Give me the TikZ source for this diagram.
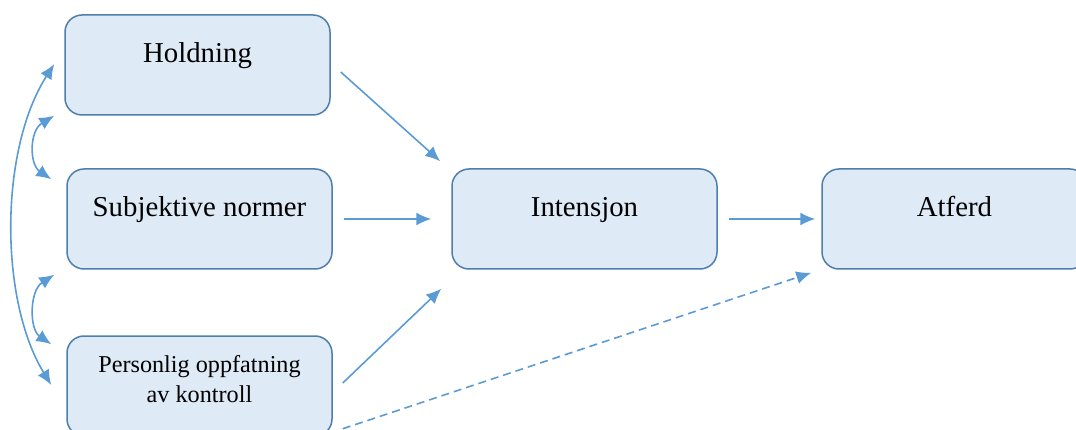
\documentclass[tikz,border=0pt]{standalone}
\usepackage{fontspec}
\setmainfont{Liberation Serif}
\usetikzlibrary{arrows.meta,calc}
\definecolor{boxfill}{HTML}{DEEAF6}
\definecolor{boxline}{HTML}{4F7EAA}
\definecolor{arr}{HTML}{5B9BD5}
\begin{document}
\begin{tikzpicture}[x=1pt,y=-1pt,
  box/.style={draw=boxline, fill=boxfill, line width=1.5pt, rounded corners=17pt,
    minimum width=265pt, minimum height=100pt, inner sep=0pt},
  lbl/.style={font=\fontsize{28.8}{34}\selectfont, inner sep=0pt, anchor=base},
  lblsmall/.style={font=\fontsize{24.2}{30}\selectfont, inner sep=0pt, align=center, anchor=north},
  con/.style={draw=arr, line width=1.6pt, -{Latex[length=15pt,width=13pt]}},
  dcon/.style={con, dash pattern=on 8pt off 5pt},
  bicon/.style={draw=arr, line width=1.6pt, {Latex[length=15pt,width=13pt]}-{Latex[length=15pt,width=13pt]}}]
\useasboundingbox (0,0) rectangle (1076,430);
\node[box] (hold) at (197.5,65) {};
\node[box] (subj) at (199.5,219) {};
\node[box] (pers) at (199.5,386) {};
\node[box] (int) at (584.5,219) {};
\node[box] (atf) at (954.5,219) {};
\node[lbl] (holdT) at ($(hold.center)+(0,-2)$) {Holdning};
\node[lbl] (subjT) at ($(subj.center)+(0,-2)$) {Subjektive normer};
\node[lblsmall] (persT) at ($(pers.center)+(0,-30.5)$) {Personlig oppfatning\\av kontroll};
\node[lbl] (intT) at ($(int.center)+(0,-2)$) {Intensjon};
\node[lbl] (atfT) at ($(atf.center)+(0,-2)$) {Atferd};
\draw[con] ($(hold.east)+(10,7)$) -- ($(int.north west)+(-11,-7)$);
\draw[con] ($(subj.east)+(11,0)$) -- ($(int.west)+(-20,0)$);
\draw[con] ($(pers.east)+(10,-3)$) -- ($(int.south west)+(-10,19)$);
\draw[con] ($(int.east)+(11,0)$) -- ($(atf.west)+(-6,0)$);
\draw[dcon] ($(pers.south east)+(10,-8)$) -- ($(atf.south west)+(-10,3)$);
\draw[bicon] ($(hold.west)+(-10,-1)$) .. controls ($(hold.west)+(-65,85)$) and ($(pers.west)+(-67,-86)$) .. ($(pers.west)+(-15,-1)$);
\draw[bicon] ($(hold.south west)+(-10,0)$) .. controls ($(hold.south west)+(-35,15)$) and ($(subj.north west)+(-37,-4)$) .. ($(subj.north west)+(-15,11)$);
\draw[bicon] ($(subj.south west)+(-12,5)$) .. controls ($(subj.south west)+(-37,21)$) and ($(pers.north west)+(-37,-6)$) .. ($(pers.north west)+(-15,9)$);
\end{tikzpicture}
\end{document}
